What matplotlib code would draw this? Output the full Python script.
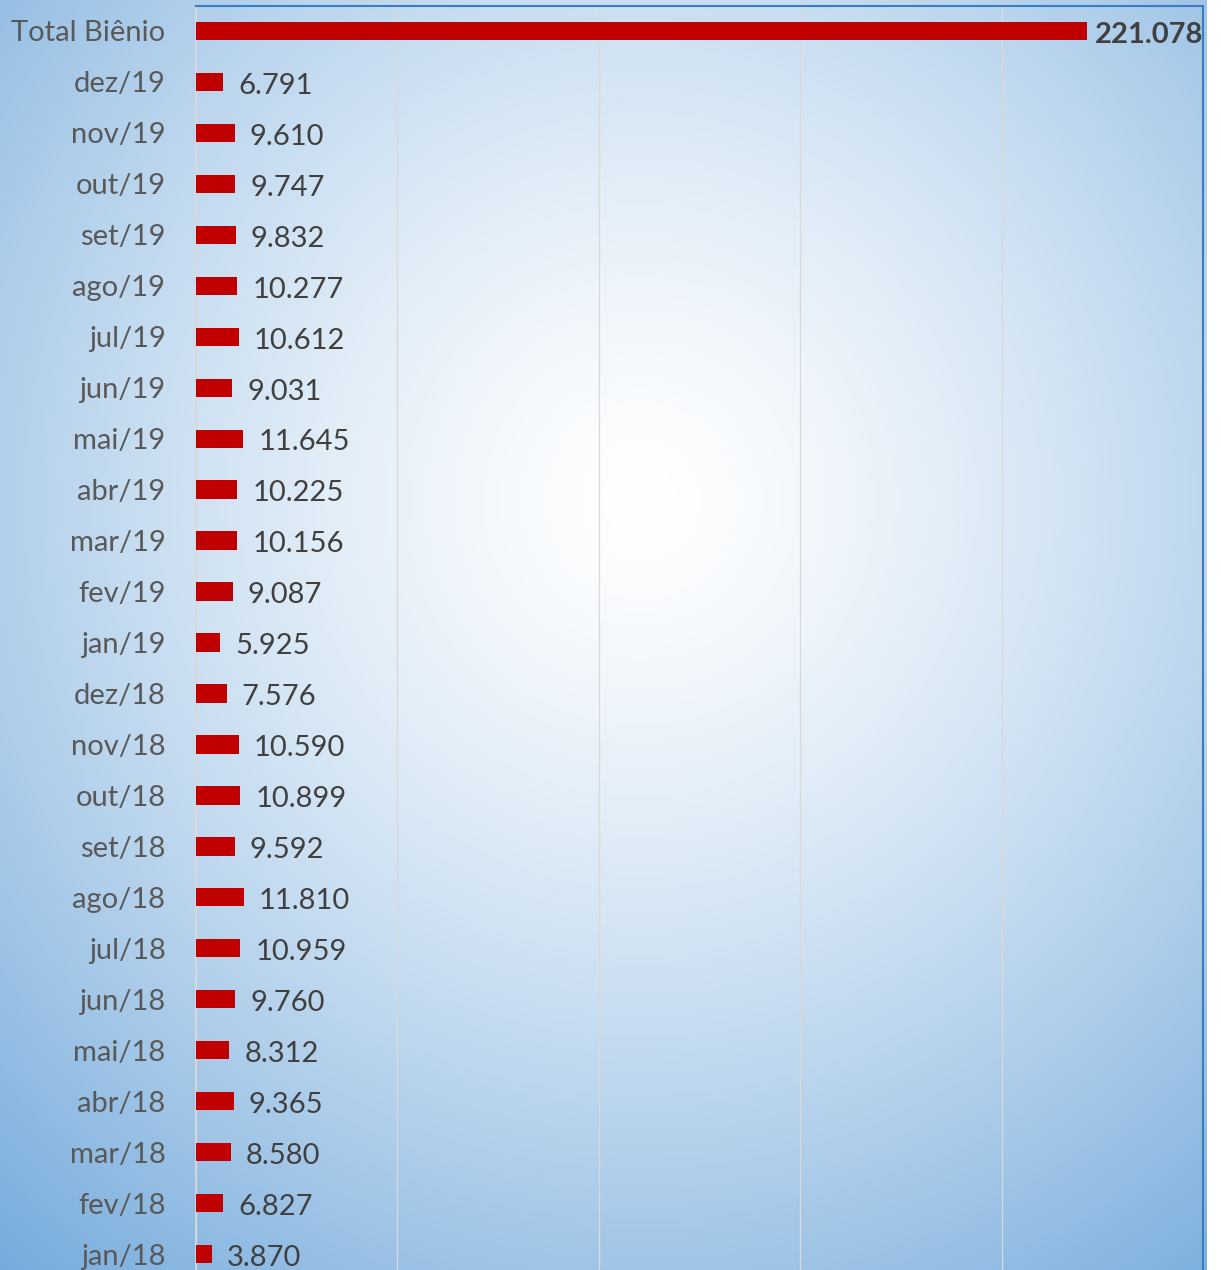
import numpy as np
import matplotlib
matplotlib.use("Agg")
import matplotlib.pyplot as plt

# monthly values, top to bottom as in the chart (newest first)
months = ["dez/19", "nov/19", "out/19", "set/19", "ago/19", "jul/19", "jun/19",
          "mai/19", "abr/19", "mar/19", "fev/19", "jan/19",
          "dez/18", "nov/18", "out/18", "set/18", "ago/18", "jul/18", "jun/18",
          "mai/18", "abr/18", "mar/18", "fev/18", "jan/18"]
month_values = [6791, 9610, 9747, 9832, 10277, 10612, 9031,
                11645, 10225, 10156, 9087, 5925,
                7576, 10590, 10899, 9592, 11810, 10959, 9760,
                8312, 9365, 8580, 6827, 3870]
total_label = "Total Biênio"
total_value = sum(month_values)  # 221.078

labels = [total_label] + months
values = [total_value] + month_values


def fmt(v):
    return f"{v:,}".replace(",", ".")


plt.rcParams["font.family"] = ["Lato", "DejaVu Sans"]

W, H = 1221, 1270
fig = plt.figure(figsize=(W / 100, H / 100), dpi=100)
fig.patch.set_facecolor("white")

# radial gradient background (white centre, blue edges)
bg_right = 1207 / W
bg = fig.add_axes([0, 0, bg_right, 1])
bg.set_axis_off()
xx, yy = np.meshgrid(np.arange(1207), np.arange(H))
r = np.sqrt(((xx - 640) / 1120.0) ** 2 + ((yy - 500) / 1150.0) ** 2)
t = np.clip(r, 0, 1) ** 1.35
blue = np.array([91, 155, 213]) / 255.0
img = (1 - t[..., None]) * np.ones(3) + t[..., None] * blue
bg.imshow(img, aspect="auto", extent=[0, 1, 0, 1], origin="upper")
bg.set_xlim(0, 1)
bg.set_ylim(0, 1)

# plot area: rows every ~51 px, first row centred at y=31
row_h = 50.96
top_px = 31 - row_h / 2
bot_px = 31 + (len(labels) - 0.5) * row_h
left_px, right_px = 196, 1203
ax = fig.add_axes([left_px / W, 1 - bot_px / H, (right_px - left_px) / W, (bot_px - top_px) / H])
ax.patch.set_alpha(0)

y = np.arange(len(labels))
ax.barh(y, values, height=0.36, color="#C00000", zorder=3)
ax.set_xlim(0, 250000)
ax.set_ylim(len(labels) - 0.5, -0.5)
ax.set_xticks(np.arange(0, 250001, 50000))
ax.xaxis.grid(True, color="#d9d9d9", linewidth=0.9, zorder=0)
ax.tick_params(axis="x", length=0, labelbottom=False)
ax.set_yticks(y)
ax.set_yticklabels(labels, fontsize=21, color="#595959")
ax.tick_params(axis="y", length=0, pad=22)

ax.spines["left"].set_color("#d9d9d9")
ax.spines["left"].set_linewidth(1.2)
ax.spines["bottom"].set_visible(False)
for s in ("top", "right"):
    ax.spines[s].set_color("#3c7dc2")
    ax.spines[s].set_linewidth(1.5)

for i, v in enumerate(values):
    bold = i == 0
    ax.annotate(fmt(v), (v, i), xytext=(6 if bold else 11, -8.5), textcoords="offset points",
                va="baseline", ha="left", fontsize=21,
                fontweight="bold" if bold else "normal", color="#404040")

fig.savefig("out.png", dpi=100)
